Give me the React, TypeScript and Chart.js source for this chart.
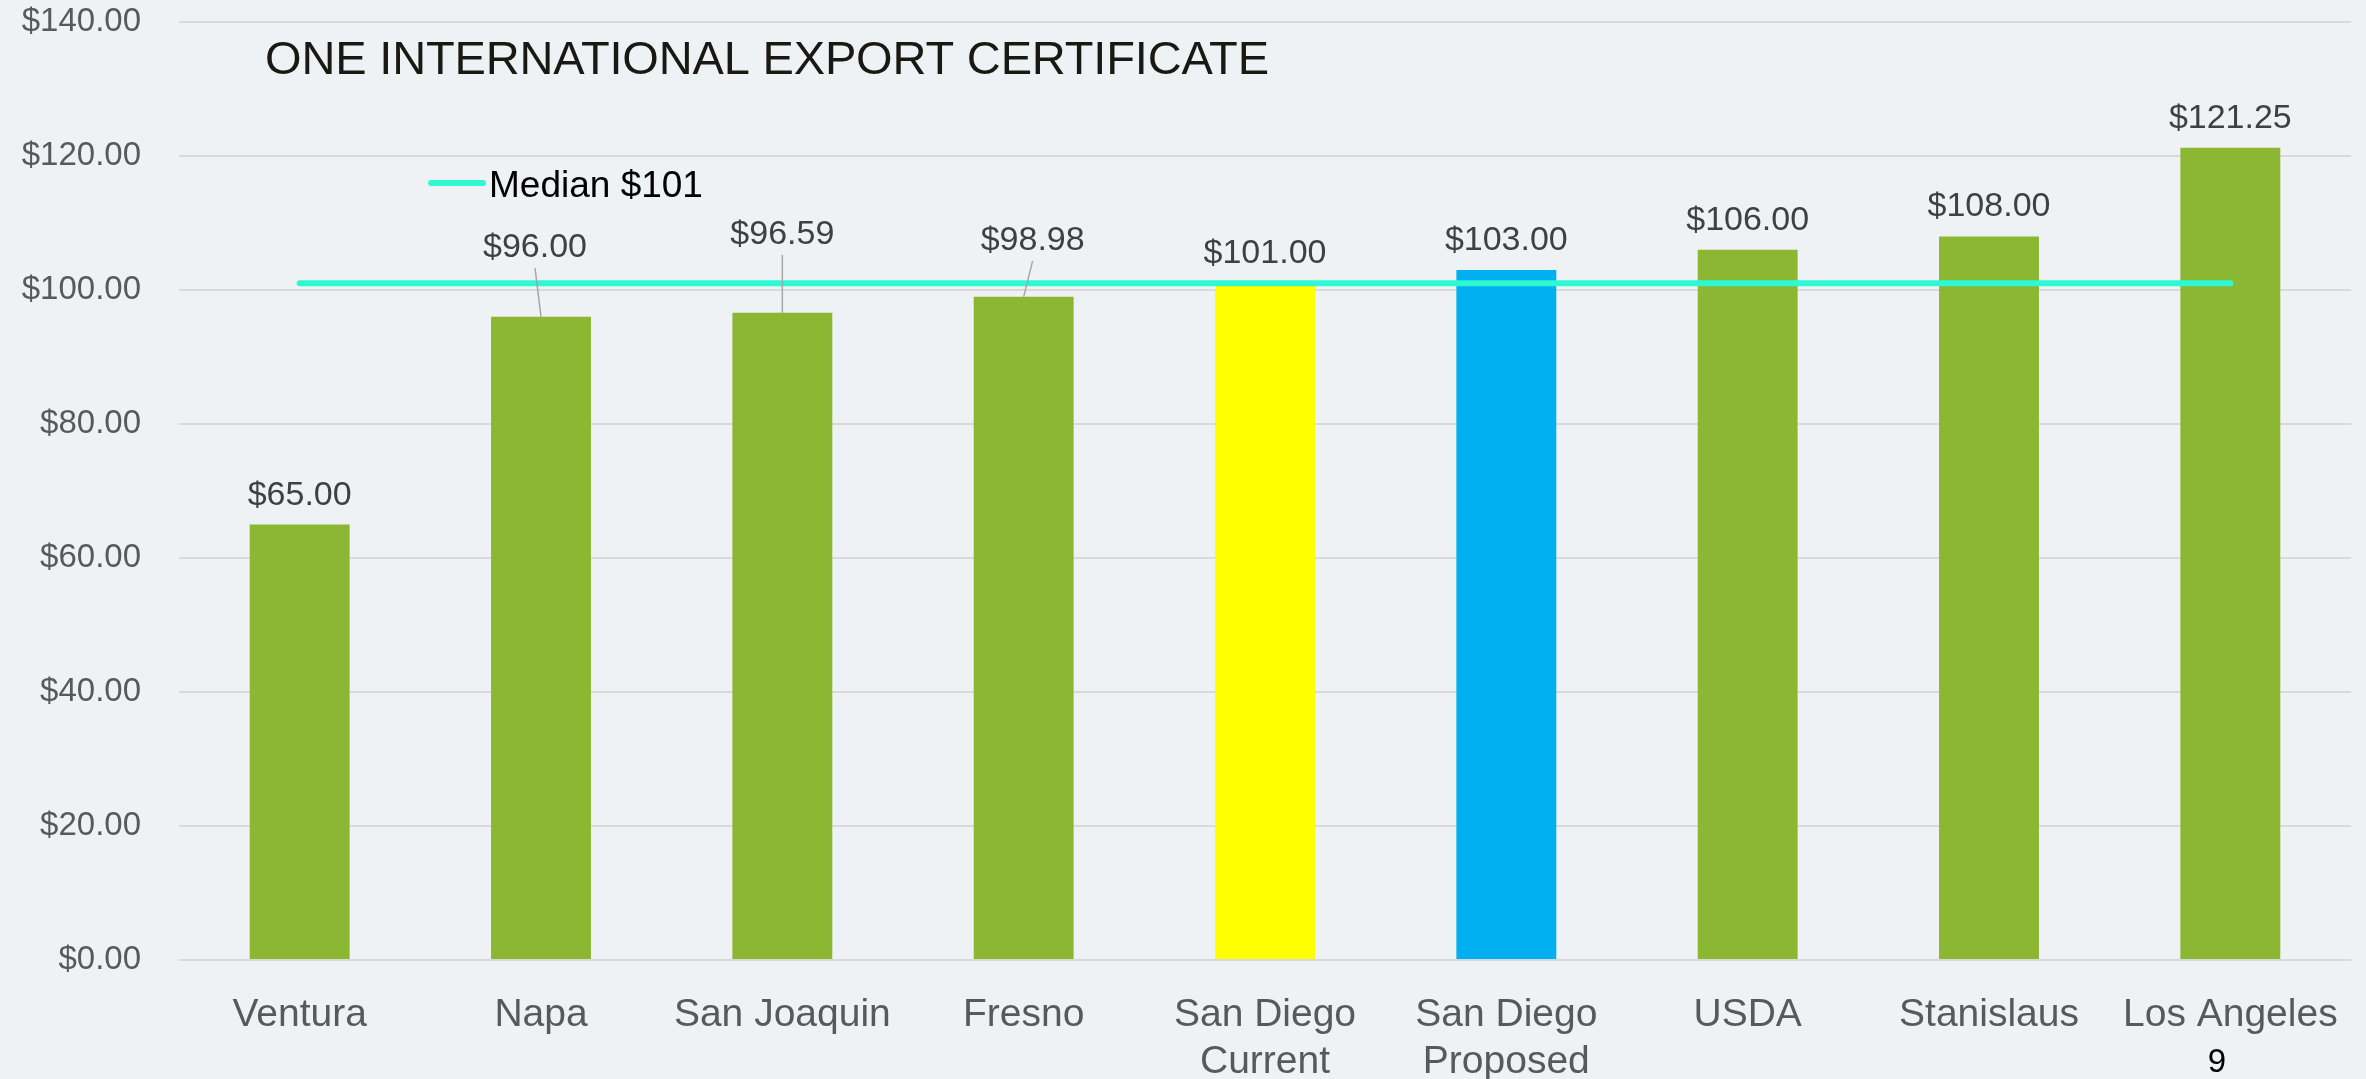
import React, { useEffect, useRef } from 'react';
import { Chart, registerables } from 'chart.js';

Chart.register(...registerables);

// ---------- data ----------
const categories: (string | string[])[] = [
  'Ventura',
  'Napa',
  'San Joaquin',
  'Fresno',
  ['San Diego', 'Current'],
  ['San Diego', 'Proposed'],
  'USDA',
  'Stanislaus',
  'Los Angeles',
];
const fees: number[] = [65.0, 96.0, 96.59, 98.98, 101.0, 103.0, 106.0, 108.0, 121.25];
const medianValue = 101;
const medianLabel = 'Median $101';
const titleText = 'ONE INTERNATIONAL EXPORT CERTIFICATE';
const yMin = 0;
const yMax = 140;
const yStep = 20;
const pageNumber = '9';

// ---------- styles ----------
const GREEN = '#8BB733';
const barColors = [GREEN, GREEN, GREEN, GREEN, '#FFFF00', '#00B0F0', GREEN, GREEN, GREEN];
const MEDIAN_COLOR = '#2EF9D2';
const BG = '#EEF2F5';
const FONT = '"Liberation Sans", Arial, sans-serif';
// data-label placement (pixels): horizontal shift and lift of baseline above bar top
const labelDx = [0, -6, 0, 9, 0, 0, 0, 0, 0];
const labelLift = [20, 60, 69, 47, 20, 20, 20, 20, 20];

const overlayPlugin = {
  id: 'overlay',
  afterDatasetsDraw(chart: any) {
    const ctx: CanvasRenderingContext2D = chart.ctx;
    const meta = chart.getDatasetMeta(0);
    ctx.save();
    // data labels
    ctx.font = `34px ${FONT}`;
    ctx.fillStyle = '#404040';
    ctx.textAlign = 'center';
    ctx.textBaseline = 'alphabetic';
    meta.data.forEach((el: any, i: number) => {
      const { x, y } = el.getProps(['x', 'y'], true);
      const lx = x + labelDx[i];
      const by = y - labelLift[i];
      ctx.fillText('$' + fees[i].toFixed(2), lx, by);
      if (labelLift[i] > 30) {
        ctx.beginPath();
        ctx.strokeStyle = '#A6A6A6';
        ctx.lineWidth = 1.5;
        ctx.moveTo(lx, by + 11);
        ctx.lineTo(x, y);
        ctx.stroke();
      }
    });
    ctx.restore();
  },
  afterDraw(chart: any) {
    const ctx: CanvasRenderingContext2D = chart.ctx;
    ctx.save();
    // title
    ctx.font = `47px ${FONT}`;
    ctx.fillStyle = '#1A1812';
    ctx.textAlign = 'left';
    ctx.textBaseline = 'alphabetic';
    (ctx as any).letterSpacing = '0px';
    const w0 = ctx.measureText(titleText).width;
    const ls = (1004 - w0) / (titleText.length - 1);
    (ctx as any).letterSpacing = `${ls}px`;
    ctx.fillText(titleText, 265, 74);
    (ctx as any).letterSpacing = '0px';

    // legend
    ctx.beginPath();
    ctx.strokeStyle = MEDIAN_COLOR;
    ctx.lineWidth = 6;
    ctx.lineCap = 'round';
    ctx.moveTo(431, 183);
    ctx.lineTo(483, 183);
    ctx.stroke();
    ctx.font = `37px ${FONT}`;
    ctx.fillStyle = '#000000';
    ctx.fillText(medianLabel, 489, 197);

    // page number
    ctx.font = `33px ${FONT}`;
    ctx.textAlign = 'center';
    ctx.fillText(pageNumber, 2217, 1072);
    ctx.restore();
  },
};

const bgPlugin = {
  id: 'bg',
  beforeDraw(chart: any) {
    const ctx = chart.ctx;
    ctx.save();
    ctx.fillStyle = BG;
    ctx.fillRect(0, 0, chart.width, chart.height);
    ctx.restore();
  },
};

export default function App() {
  const ref = useRef<HTMLCanvasElement | null>(null);
  useEffect(() => {
    if (!ref.current) return;
    const chart = new Chart(ref.current, {
      data: {
        labels: categories,
        datasets: [
          {
            type: 'bar',
            label: 'Fee',
            data: fees,
            backgroundColor: barColors,
            borderWidth: 0,
            barPercentage: 1,
            categoryPercentage: 0.414,
            order: 1,
          } as any,
          {
            type: 'line',
            label: medianLabel,
            data: categories.map(() => medianValue),
            borderColor: MEDIAN_COLOR,
            borderWidth: 6,
            borderCapStyle: 'round',
            pointRadius: 0,
            fill: false,
            order: 0,
          } as any,
        ],
      },
      options: {
        responsive: false,
        animation: false,
        layout: { padding: { top: 22, right: 15, left: 0, bottom: 0 } },
        plugins: {
          legend: { display: false },
          tooltip: { enabled: false },
          title: { display: false },
        },
        scales: {
          x: {
            type: 'category',
            grid: { display: false },
            border: { display: false },
            ticks: {
              color: '#595959',
              font: { family: FONT, size: 39, lineHeight: 1.2 },
              padding: 24,
              maxRotation: 0,
              autoSkip: false,
            },
            afterFit(scale: any) {
              scale.height = 119;
              scale.paddingLeft = 0;
              scale.paddingRight = 0;
            },
          },
          y: {
            min: yMin,
            max: yMax,
            grid: { color: '#D9D9D9', lineWidth: 2, drawTicks: false },
            border: { display: false },
            ticks: {
              stepSize: yStep,
              color: '#595959',
              font: { family: FONT, size: 33 },
              padding: 38,
              callback: (v: any) => '$' + Number(v).toFixed(2),
            },
            afterFit(scale: any) {
              scale.width = 179;
              scale.paddingTop = 0;
              scale.paddingBottom = 0;
            },
          },
        },
      },
      plugins: [bgPlugin, overlayPlugin],
    });
    return () => chart.destroy();
  }, []);
  return (
    <div style={{ position: 'fixed', left: 0, top: 0, width: 2366, height: 1079, background: BG }}>
      <canvas ref={ref} width={2366} height={1079} style={{ display: 'block' }} />
    </div>
  );
}
